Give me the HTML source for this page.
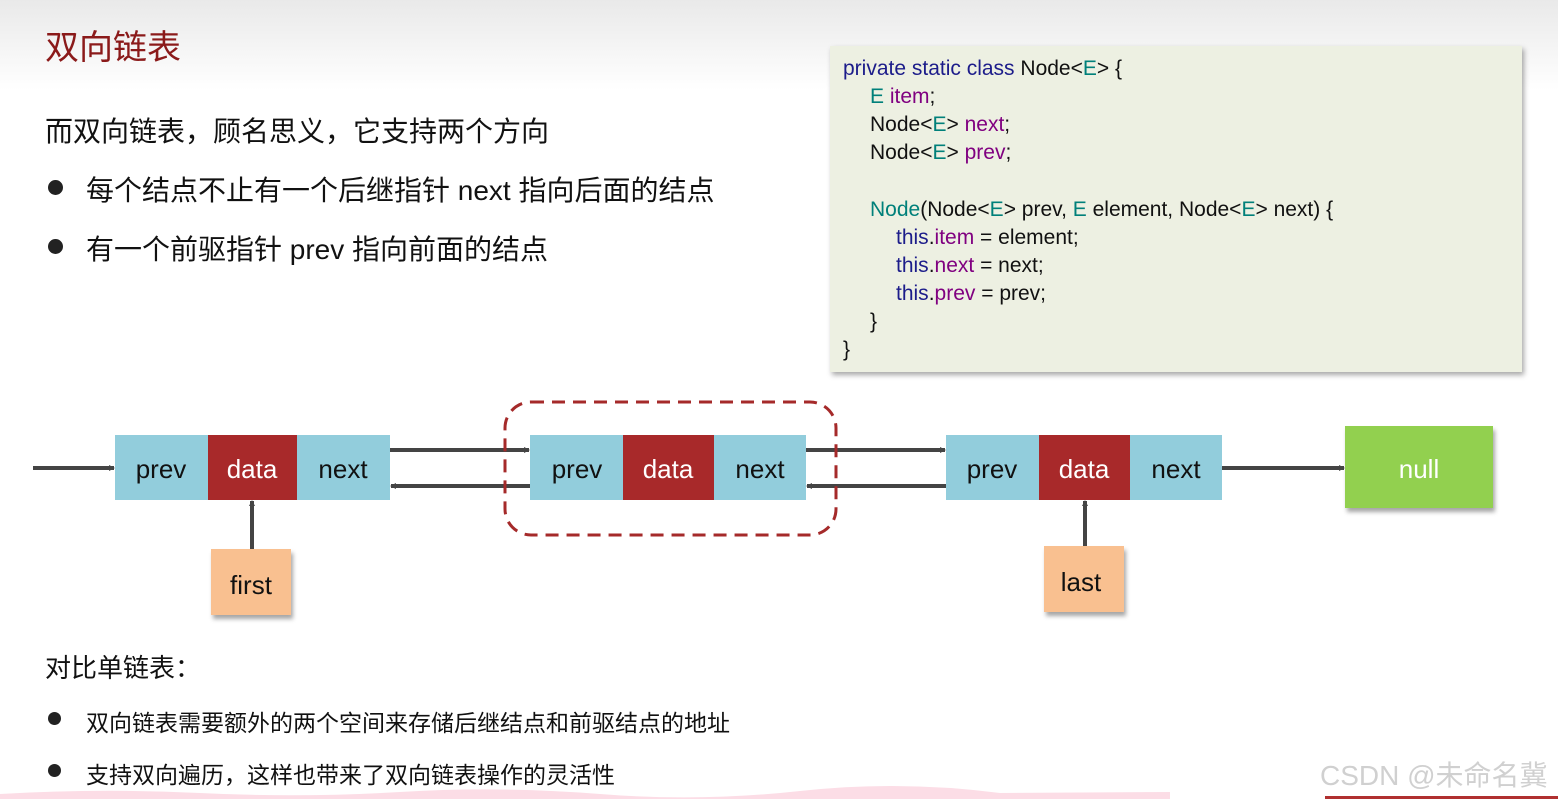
<!DOCTYPE html>
<html><head><meta charset="utf-8"><style>
body{margin:0;width:1558px;height:799px;position:relative;overflow:hidden;background:#fff;font-family:"Liberation Sans","Noto Sans CJK SC",sans-serif;}
.hdr{position:absolute;left:0;top:0;width:1558px;height:90px;background:linear-gradient(#e9e9e9,#fff);}
.t{position:absolute;white-space:nowrap;color:#111;}
.dot{position:absolute;width:15px;height:15px;border-radius:50%;background:#222;}
.code{position:absolute;left:830px;top:46px;width:692px;height:326px;background:#edf0e2;box-shadow:2px 3px 5px rgba(0,0,0,.35);}
.cl{position:absolute;font-size:21px;white-space:nowrap;color:#111;line-height:24px;}
.k{color:#1c1c8a}.e{color:#00807a}.f{color:#800080}
</style></head><body>
<div class="hdr"></div>
<div class="t" style="left:45px;top:20px;font-size:34px;color:#8b1a1a;">双向链表</div>
<div class="t" style="left:45px;top:110px;font-size:28px;">而双向链表，顾名思义，它支持两个方向</div>
<div class="dot" style="left:48px;top:180px"></div>
<div class="t" style="left:86px;top:169px;font-size:28px;">每个结点不止有一个后继指针 next 指向后面的结点</div>
<div class="dot" style="left:48px;top:239px"></div>
<div class="t" style="left:86px;top:228px;font-size:28px;">有一个前驱指针 prev 指向前面的结点</div>

<div class="code">
<div class="cl" style="left:13px;top:11px"><span class="k">private static class</span> Node&lt;<span class="e">E</span>&gt; {</div>
<div class="cl" style="left:40px;top:39px"><span class="e">E</span> <span class="f">item</span>;</div>
<div class="cl" style="left:40px;top:67px">Node&lt;<span class="e">E</span>&gt; <span class="f">next</span>;</div>
<div class="cl" style="left:40px;top:95px">Node&lt;<span class="e">E</span>&gt; <span class="f">prev</span>;</div>
<div class="cl" style="left:40px;top:152px"><span class="e">Node</span>(Node&lt;<span class="e">E</span>&gt; prev, <span class="e">E</span> element, Node&lt;<span class="e">E</span>&gt; next) {</div>
<div class="cl" style="left:66px;top:180px"><span class="k">this</span>.<span class="f">item</span> = element;</div>
<div class="cl" style="left:66px;top:208px"><span class="k">this</span>.<span class="f">next</span> = next;</div>
<div class="cl" style="left:66px;top:236px"><span class="k">this</span>.<span class="f">prev</span> = prev;</div>
<div class="cl" style="left:40px;top:264px">}</div>
<div class="cl" style="left:13px;top:292px">}</div>
</div>

<svg width="1558" height="799" style="position:absolute;left:0;top:0" font-family="Liberation Sans, DejaVu Sans, sans-serif">
<defs>
<marker id="a" markerWidth="6" markerHeight="6" refX="5" refY="3" orient="auto" markerUnits="userSpaceOnUse" viewBox="0 0 6 6"><path d="M0,0 L6,3 L0,6z" fill="#444"/></marker>
<filter id="s" x="-10%" y="-10%" width="130%" height="140%"><feDropShadow dx="2" dy="4" stdDeviation="2" flood-opacity="0.35"/></filter>
</defs>
<g font-size="26" text-anchor="middle">
<!-- node1 -->
<rect x="115" y="435" width="93" height="65" fill="#92cddc"/><rect x="208" y="435" width="89" height="65" fill="#a8292a"/><rect x="297" y="435" width="93" height="65" fill="#92cddc"/>
<text x="161" y="478" fill="#111">prev</text><text x="252" y="478" fill="#fff">data</text><text x="343" y="478" fill="#111">next</text>
<!-- node2 -->
<rect x="530" y="435" width="93" height="65" fill="#92cddc"/><rect x="623" y="435" width="91" height="65" fill="#a8292a"/><rect x="714" y="435" width="92" height="65" fill="#92cddc"/>
<text x="577" y="478" fill="#111">prev</text><text x="668" y="478" fill="#fff">data</text><text x="760" y="478" fill="#111">next</text>
<!-- node3 -->
<rect x="946" y="435" width="93" height="65" fill="#92cddc"/><rect x="1039" y="435" width="91" height="65" fill="#a8292a"/><rect x="1130" y="435" width="92" height="65" fill="#92cddc"/>
<text x="992" y="478" fill="#111">prev</text><text x="1084" y="478" fill="#fff">data</text><text x="1176" y="478" fill="#111">next</text>
<rect x="1345" y="426" width="148" height="82" fill="#92d050" filter="url(#s)"/>
<text x="1419" y="478" fill="#fff">null</text>
<rect x="211" y="549" width="80" height="66" fill="#f9c090" filter="url(#s)"/>
<text x="251" y="594" fill="#111">first</text>
<rect x="1044" y="546" width="80" height="66" fill="#f9c090" filter="url(#s)"/>
<text x="1081" y="591" fill="#111">last</text>
</g>
<g stroke="#444" stroke-width="4" marker-end="url(#a)">
<line x1="33" y1="468" x2="114" y2="468"/>
<line x1="390" y1="450" x2="529" y2="450"/>
<line x1="530" y1="486" x2="391" y2="486"/>
<line x1="806" y1="450" x2="945" y2="450"/>
<line x1="946" y1="486" x2="807" y2="486"/>
<line x1="1222" y1="468" x2="1344" y2="468"/>
<line x1="252" y1="549" x2="252" y2="501"/>
<line x1="1085" y1="546" x2="1085" y2="501"/>
</g>
<rect x="505" y="402" width="331" height="133" rx="26" fill="none" stroke="#a52a2a" stroke-width="3" stroke-dasharray="13 8"/>
<path d="M0,794 Q100,788 200,793 T400,792 T600,794 T800,791 T1000,793 L1170,792 L1170,799 L0,799z" fill="#fcdde6"/>
<rect x="1325" y="796" width="233" height="3" fill="#b03030"/>
</svg>

<div class="t" style="left:45px;top:648px;font-size:26px;">对比单链表：</div>
<div class="dot" style="left:48px;top:712px;width:13px;height:13px"></div>
<div class="t" style="left:86px;top:704px;font-size:23px;">双向链表需要额外的两个空间来存储后继结点和前驱结点的地址</div>
<div class="dot" style="left:48px;top:764px;width:13px;height:13px"></div>
<div class="t" style="left:86px;top:756px;font-size:23px;">支持双向遍历，这样也带来了双向链表操作的灵活性</div>
<div class="t" style="left:1320px;top:754px;font-size:28px;color:#d0d0d0;">CSDN @未命名冀</div>
</body></html>
